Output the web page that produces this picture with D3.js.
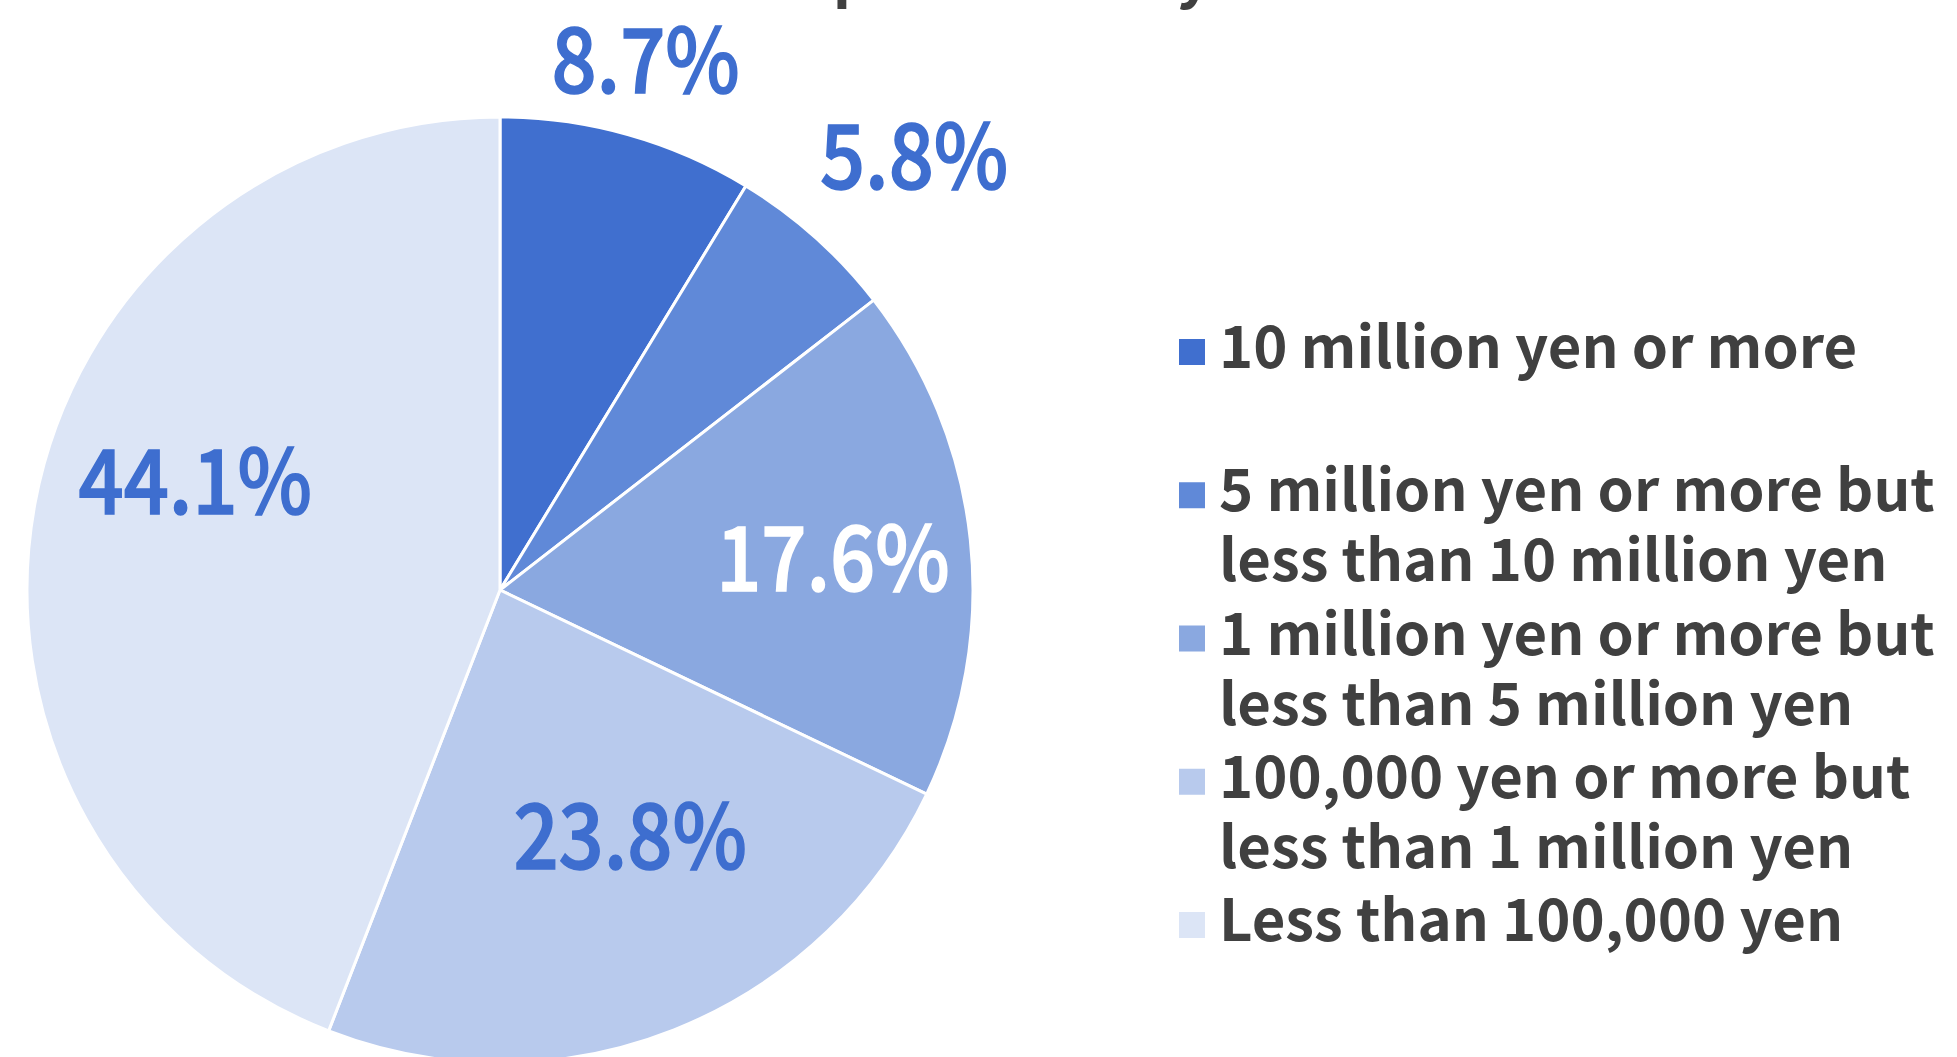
<!DOCTYPE html>
<html>
<head>
<meta charset="utf-8">
<script src="https://cdn.jsdelivr.net/npm/d3@7"></script>
<style>
  html, body { margin: 0; padding: 0; background: #ffffff; overflow: hidden; }
  svg { display: block; }
</style>
</head>
<body>
<div id="chart"></div>
<script>
// data
const categories = [
  "10 million yen or more",
  "5 million yen or more but less than 10 million yen",
  "1 million yen or more but less than 5 million yen",
  "100,000 yen or more but less than 1 million yen",
  "Less than 100,000 yen"
];
const legendLines = [
  ["10 million yen or more"],
  ["5 million yen or more but", "less than 10 million yen"],
  ["1 million yen or more but", "less than 5 million yen"],
  ["100,000 yen or more but", "less than 1 million yen"],
  ["Less than 100,000 yen"]
];
const values = [8.7, 5.8, 17.6, 23.8, 44.1];
const colors = ["#406fcf", "#6089d8", "#8aa8e0", "#b8caed", "#dce5f6"];
const titleText = "Breakdown of expenditure by amount";

// label placement (layout only): shift from slice middle in degrees, distance as share of radius
const labelShift = [-0.3, 1.9, 0.6, -6.3, 9.0];
const labelDist = [1.162, 1.268, 0.707, 0.588, 0.684];

const width = 1957, height = 1057;
const cx = 500, cy = 590, radius = 473;

const svg = d3.select("#chart").append("svg")
  .attr("width", width)
  .attr("height", height);

// title, mostly cut off by the top edge
svg.append("text")
  .attr("x", 900)
  .attr("y", -4)
  .attr("text-anchor", "middle")
  .style("font-family", "'Noto Sans CJK JP', 'Noto Sans', sans-serif")
  .style("font-weight", 700)
  .style("font-size", "60px")
  .style("fill", "#404040")
  .text(titleText);

const pie = d3.pie().sort(null).value(d => d);
const arcs = pie(values);
const arc = d3.arc().innerRadius(0).outerRadius(radius);

const g = svg.append("g").attr("transform", "translate(" + cx + "," + cy + ")");

g.selectAll("path.slice")
  .data(arcs)
  .enter().append("path")
  .attr("class", "slice")
  .attr("d", arc)
  .style("fill", (d, i) => colors[i])
  .style("stroke", "#ffffff")
  .style("stroke-width", 3)
  .style("stroke-linejoin", "round");

// percentage labels (the reference face is a bit narrower, so squeeze them)
let labelColor = (d, i) => i == 2 ? "#ffffff" : "#3e6ecf";

g.selectAll("text.pct")
  .data(arcs)
  .enter().append("text")
  .attr("class", "pct")
  .attr("transform", (d, i) => {
    let a = (d.startAngle + d.endAngle) / 2 + labelShift[i] * Math.PI / 180;
    let p = d3.pointRadial(a, radius * labelDist[i]);
    return "translate(" + p[0] + "," + (p[1] + 33) + ") scale(0.88,1)";
  })
  .attr("text-anchor", "middle")
  .style("font-family", "'Noto Sans CJK JP', sans-serif")
  .style("font-weight", 500)
  .style("font-size", "90px")
  .style("fill", labelColor)
  .style("stroke", labelColor)
  .style("stroke-width", 1.6)
  .text(d => d.data.toFixed(1) + "%");

// legend
const legendY = d3.scalePoint().domain(d3.range(categories.length)).range([368, 941]);

const item = svg.selectAll("g.legend")
  .data(categories)
  .enter().append("g")
  .attr("class", "legend")
  .attr("transform", (d, i) => "translate(1179," + legendY(i) + ")");

item.append("rect")
  .attr("x", 0)
  .attr("y", -29)
  .attr("width", 26)
  .attr("height", 26)
  .style("fill", (d, i) => colors[i]);

item.append("text")
  .attr("x", 40)
  .attr("y", 0)
  .style("font-family", "'Noto Sans CJK JP', sans-serif")
  .style("font-weight", 700)
  .style("font-size", "58px")
  .style("fill", "#404040")
  .selectAll("tspan")
  .data((d, i) => legendLines[i])
  .enter().append("tspan")
  .attr("x", 40)
  .attr("dy", (d, j) => j == 0 ? 0 : 70)
  .text(d => d);
</script>
</body>
</html>
